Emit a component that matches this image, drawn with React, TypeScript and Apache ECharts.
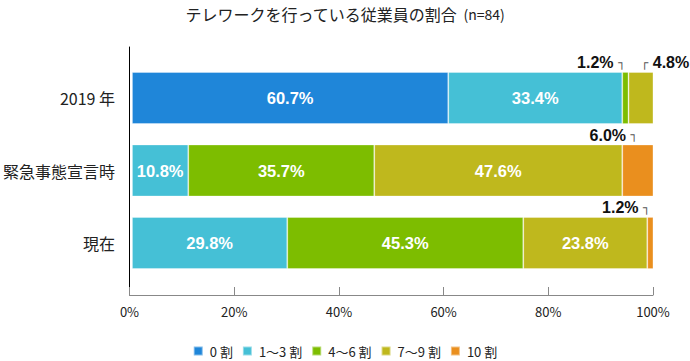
import React, { useEffect, useRef } from "react";
import * as echarts from "echarts";

const categories = ["2019 年", "緊急事態宣言時", "現在"];
const seriesNames = ["0 割", "1〜3 割", "4〜6 割", "7〜9 割", "10 割"];
const share0 = [60.7, 0, 0];
const share1to3 = [33.4, 10.8, 29.8];
const share4to6 = [1.2, 35.7, 45.3];
const share7to9 = [4.8, 47.6, 23.8];
const share10 = [0, 6.0, 1.2];
const xTicks = [0, 20, 40, 60, 80, 100];

const seriesValues = [share0, share1to3, share4to6, share7to9, share10];
const colors = ["#1f86d9", "#45c0d6", "#7dbd00", "#bfb81d", "#ea8f1e"];

// small segments labelled above the bar: [seriesIndex, categoryIndex, bracket side]
const outsideLabels: [number, number, "right" | "left"][] = [
  [2, 0, "right"],
  [3, 0, "left"],
  [4, 1, "right"],
  [4, 2, "right"],
];

const NUM_FONT = "'Liberation Sans', Arial, sans-serif";
const JP_FONT = "'Noto Sans CJK JP', sans-serif";

export default function App() {
  const ref = useRef<HTMLDivElement>(null);
  useEffect(() => {
    if (!ref.current) return;
    const chart = echarts.init(ref.current, null, { renderer: "svg" });
    const series = seriesValues.map((arr, s) => ({
      name: seriesNames[s],
      type: "bar",
      stack: "total",
      xAxisIndex: 1,
      yAxisIndex: 1,
      barWidth: 52,
      itemStyle: {
        color: colors[s],
        borderColor: "rgba(255,255,255,0.45)",
        borderWidth: 0.8,
      },
      label: {
        show: true,
        position: "inside",
        color: "#fff",
        fontSize: 16.5,
        fontWeight: "bold",
        fontFamily: NUM_FONT,
        formatter: (p: any) => (p.value >= 8 ? p.value.toFixed(1) + "%" : ""),
      },
      data: arr.map((v, c) => {
        const o = outsideLabels.find((x) => x[0] === s && x[1] === c);
        if (!o) return v;
        const txt = v.toFixed(1) + "%";
        return {
          value: v,
          label: {
            show: true,
            position: "top",
            distance: 1,
            align: o[2] === "right" ? "right" : "left",
            formatter: o[2] === "right" ? `{v|${txt}} {b|┐}` : `{b|┌} {v|${txt}}`,
            rich: {
              v: { fontSize: 16, fontWeight: "bold", color: "#111", fontFamily: NUM_FONT },
              b: { fontSize: 12, color: "#555", fontFamily: "'DejaVu Sans', sans-serif" },
            },
          },
        };
      }),
    }));
    chart.setOption({
      animation: false,
      title: {
        text: "{a|テレワークを行っている従業員の割合}{b|  (n=84)}",
        left: "center",
        top: 1,
        textStyle: {
          rich: {
            a: { fontSize: 16, color: "#222", fontWeight: "normal", fontFamily: JP_FONT },
            b: { fontSize: 14, color: "#222", fontWeight: "normal", fontFamily: JP_FONT },
          },
        },
      },
      legend: {
        data: seriesNames,
        top: 339,
        left: "center",
        icon: "rect",
        itemWidth: 9,
        itemHeight: 9,
        itemGap: 9,
        textStyle: {
          fontSize: 13,
          lineHeight: 14,
          color: "#222",
          fontFamily: JP_FONT,
          padding: [0, 0, 0, 2],
        },
      },
      grid: [
        { left: 129.5, right: 37, top: 47, bottom: 66 },
        { left: 129.5, right: 37, top: 61.75, bottom: 81.75 },
      ],
      xAxis: [
        {
          gridIndex: 0,
          type: "value",
          min: xTicks[0],
          max: xTicks[xTicks.length - 1],
          interval: xTicks[1] - xTicks[0],
          axisLine: { show: true, lineStyle: { color: "#888", width: 1 } },
          axisTick: { show: true, inside: true, length: 8, lineStyle: { color: "#888" } },
          axisLabel: { formatter: "{value}%", color: "#222", fontSize: 13, margin: 10, fontFamily: JP_FONT },
          splitLine: { show: false },
        },
        {
          gridIndex: 1,
          type: "value",
          min: xTicks[0],
          max: xTicks[xTicks.length - 1],
          show: false,
        },
      ],
      yAxis: [
        {
          gridIndex: 0,
          type: "category",
          data: [""],
          axisLine: { show: true, lineStyle: { color: "#000", width: 1 } },
          axisTick: { show: false },
          axisLabel: { show: false },
        },
        {
          gridIndex: 1,
          type: "category",
          data: categories,
          inverse: true,
          axisLine: { show: false },
          axisTick: { show: false },
          axisLabel: { fontSize: 16, color: "#222", margin: 17, fontFamily: JP_FONT },
        },
      ],
      series,
    });
    return () => chart.dispose();
  }, []);
  return (
    <div
      ref={ref}
      style={{ position: "fixed", left: 0, top: 0, width: 690, height: 361, background: "#fff" }}
    />
  );
}
